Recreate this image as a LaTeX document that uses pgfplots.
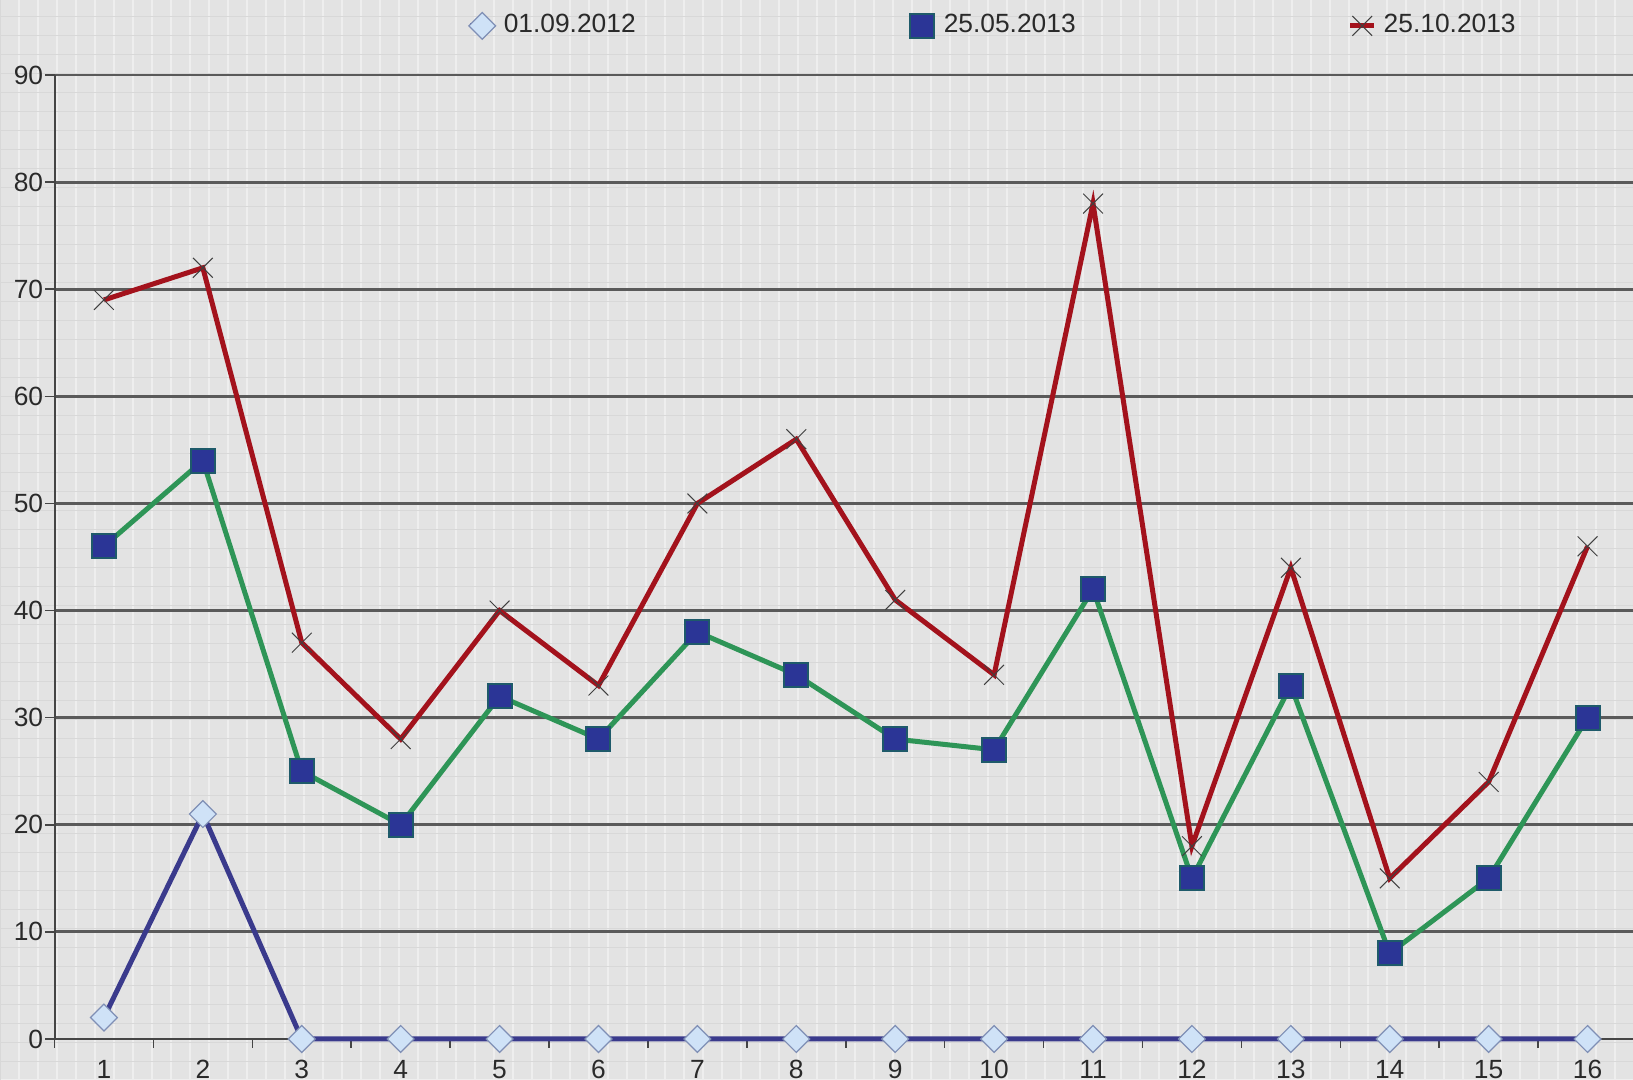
\documentclass[border=0pt]{standalone}
\usepackage{fontspec}
\setmainfont{Liberation Sans}
\usepackage{pgfplots}
\pgfplotsset{compat=1.18}
\definecolor{bg}{HTML}{E3E3E3}
\definecolor{bglight}{HTML}{EEEEEE}
\definecolor{bgdark}{HTML}{D8D8D8}
\definecolor{gridc}{HTML}{5A5A5A}
\definecolor{axc}{HTML}{454545}
\definecolor{sOne}{HTML}{3A3A8C}
\definecolor{sOneFill}{HTML}{CFE2F7}
\definecolor{sOneEdge}{HTML}{7F8FB5}
\definecolor{sTwo}{HTML}{2E9557}
\definecolor{sTwoFill}{HTML}{2B3596}
\definecolor{sTwoEdge}{HTML}{1E5A6A}
\definecolor{sThree}{HTML}{A3121C}
\definecolor{txt}{HTML}{2A2A2A}
\begin{document}
\begin{tikzpicture}[font=\fontsize{7.5}{9}\selectfont]
\useasboundingbox (0,0) rectangle (163.3mm,108mm);
\clip (0,0) rectangle (163.3mm,108mm);
\fill[bg] (0,0) rectangle (163.3mm,108mm);
\draw[bglight, line width=0.12mm, xstep=1.9mm, ystep=200mm] (0,0) grid (163.3mm,108mm);
\draw[bgdark, line width=0.08mm, xstep=200mm, ystep=1.9mm] (0,0) grid (163.3mm,108mm);
\begin{axis}[
  scale only axis, width=158.25mm, height=96.4mm,
  at={(5.45mm,4.1mm)}, anchor=south west,
  xmin=0.5, xmax=16.5, ymin=0, ymax=90,
  axis x line*=bottom, axis y line*=left,
  axis line style={-, draw=axc, line width=0.2mm},
  tick align=outside,
  xtick={0.5,1.5,...,16.5}, xticklabels={},
  x tick style={draw=axc, line width=0.15mm},
  major tick length=0.9mm,
  extra x ticks={1,2,...,16},
  extra x tick style={major tick length=0pt, xticklabel style={text=txt}},
  ytick={0,10,...,90},
  y tick style={draw=axc, line width=0.15mm},
  ymajorgrids,
  grid style={draw=gridc, line width=0.28mm},
  /pgf/number format/assume math mode=true,
  tick label style={font=\fontsize{7.5}{9}\selectfont, text=txt},
  xticklabel style={yshift=-0.9mm},
  yticklabel style={xshift=1mm},
  clip=false,
  legend columns=3,
  legend style={draw=none, fill=none, at={(axis description cs:0.2607,1.051)}, anchor=west,
    font=\fontsize{7.5}{9}\selectfont, text=txt, inner sep=0pt,
    /tikz/every even column/.append style={column sep=26.5mm}},
  legend image code/.code={\draw[mark repeat=2,mark phase=2,#1] plot coordinates {(0mm,0mm) (1.2mm,0mm) (2.4mm,0mm)};},
]
\addplot[sOne, line width=0.5mm, mark=square*, mark size=0.95mm,
  mark options={rotate=45, fill=sOneFill, draw=sOneEdge, line width=0.12mm}]
  coordinates {(1,2) (2,21) (3,0) (4,0) (5,0) (6,0) (7,0) (8,0) (9,0) (10,0) (11,0) (12,0) (13,0) (14,0) (15,0) (16,0)};
\addlegendentry{01.09.2012}
\addplot[sTwo, line width=0.5mm, mark=square*, mark size=1.2mm,
  mark options={fill=sTwoFill, draw=sTwoEdge, line width=0.2mm}]
  coordinates {(1,46) (2,54) (3,25) (4,20) (5,32) (6,28) (7,38) (8,34) (9,28) (10,27) (11,42) (12,15) (13,33) (14,8) (15,15) (16,30)};
\addlegendentry{25.05.2013}
\addplot[sThree, line width=0.5mm, mark=x, mark size=1.4mm,
  mark options={draw=black!75, line width=0.1mm}]
  coordinates {(1,69) (2,72) (3,37) (4,28) (5,40) (6,33) (7,50) (8,56) (9,41) (10,34) (11,78) (12,18) (13,44) (14,15) (15,24) (16,46)};
\addlegendentry{25.10.2013}
\end{axis}
\end{tikzpicture}
\end{document}
